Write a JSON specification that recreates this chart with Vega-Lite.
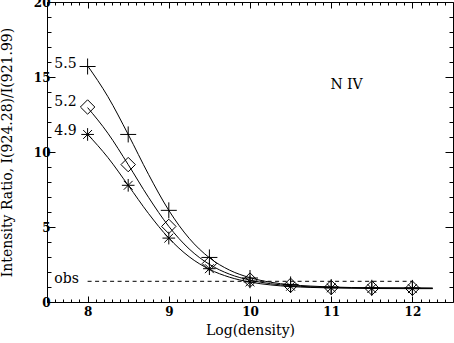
{
  "$schema": "https://vega.github.io/schema/vega-lite/v6.json",
  "width": 406,
  "height": 300,
  "padding": {"left": 47, "top": 2, "right": 1, "bottom": 41},
  "autosize": {"type": "none"},
  "background": "white",
  "config": {
    "view": {"stroke": "black", "strokeWidth": 1},
    "axis": {
      "domain": false,
      "grid": false,
      "tickColor": "black",
      "tickWidth": 1,
      "labelColor": "black",
      "titleColor": "black",
      "labelFont": "DejaVu Serif",
      "titleFont": "DejaVu Serif",
      "labelFontSize": 12,
      "labelFontWeight": "bold",
      "titleFontSize": 14,
      "titleFontWeight": "normal"
    }
  },
  "datasets": {
    "curves": [
      {"x": 8.0, "v": 15.75, "series": "5.5"},
      {"x": 8.25, "v": 13.69, "series": "5.5"},
      {"x": 8.5, "v": 11.17, "series": "5.5"},
      {"x": 8.75, "v": 8.51, "series": "5.5"},
      {"x": 9.0, "v": 6.11, "series": "5.5"},
      {"x": 9.25, "v": 4.25, "series": "5.5"},
      {"x": 9.5, "v": 2.95, "series": "5.5"},
      {"x": 9.75, "v": 2.12, "series": "5.5"},
      {"x": 10.0, "v": 1.62, "series": "5.5"},
      {"x": 10.25, "v": 1.32, "series": "5.5"},
      {"x": 10.5, "v": 1.15, "series": "5.5"},
      {"x": 10.75, "v": 1.06, "series": "5.5"},
      {"x": 11.0, "v": 1.0, "series": "5.5"},
      {"x": 11.5, "v": 0.95, "series": "5.5"},
      {"x": 12.0, "v": 0.94, "series": "5.5"},
      {"x": 12.25, "v": 0.93, "series": "5.5"},
      {"x": 8.0, "v": 12.96, "series": "5.2"},
      {"x": 8.25, "v": 11.25, "series": "5.2"},
      {"x": 8.5, "v": 9.16, "series": "5.2"},
      {"x": 8.75, "v": 6.98, "series": "5.2"},
      {"x": 9.0, "v": 5.04, "series": "5.2"},
      {"x": 9.25, "v": 3.54, "series": "5.2"},
      {"x": 9.5, "v": 2.51, "series": "5.2"},
      {"x": 9.75, "v": 1.85, "series": "5.2"},
      {"x": 10.0, "v": 1.46, "series": "5.2"},
      {"x": 10.25, "v": 1.22, "series": "5.2"},
      {"x": 10.5, "v": 1.09, "series": "5.2"},
      {"x": 10.75, "v": 1.01, "series": "5.2"},
      {"x": 11.0, "v": 0.97, "series": "5.2"},
      {"x": 11.5, "v": 0.93, "series": "5.2"},
      {"x": 12.0, "v": 0.92, "series": "5.2"},
      {"x": 12.25, "v": 0.91, "series": "5.2"},
      {"x": 8.0, "v": 11.18, "series": "4.9"},
      {"x": 8.25, "v": 9.63, "series": "4.9"},
      {"x": 8.5, "v": 7.78, "series": "4.9"},
      {"x": 8.75, "v": 5.9, "series": "4.9"},
      {"x": 9.0, "v": 4.26, "series": "4.9"},
      {"x": 9.25, "v": 3.02, "series": "4.9"},
      {"x": 9.5, "v": 2.18, "series": "4.9"},
      {"x": 9.75, "v": 1.65, "series": "4.9"},
      {"x": 10.0, "v": 1.33, "series": "4.9"},
      {"x": 10.25, "v": 1.14, "series": "4.9"},
      {"x": 10.5, "v": 1.03, "series": "4.9"},
      {"x": 10.75, "v": 0.97, "series": "4.9"},
      {"x": 11.0, "v": 0.94, "series": "4.9"},
      {"x": 11.5, "v": 0.9, "series": "4.9"},
      {"x": 12.0, "v": 0.89, "series": "4.9"},
      {"x": 12.25, "v": 0.89, "series": "4.9"}
    ],
    "symbols": [
      {"x": 8.0, "v": 15.7, "series": "5.5"},
      {"x": 8.5, "v": 11.17, "series": "5.5"},
      {"x": 9.0, "v": 6.11, "series": "5.5"},
      {"x": 9.5, "v": 2.97, "series": "5.5"},
      {"x": 10.0, "v": 1.6, "series": "5.5"},
      {"x": 10.5, "v": 1.17, "series": "5.5"},
      {"x": 11.0, "v": 1.0, "series": "5.5"},
      {"x": 11.5, "v": 0.95, "series": "5.5"},
      {"x": 12.0, "v": 0.94, "series": "5.5"},
      {"x": 8.0, "v": 13.0, "series": "5.2"},
      {"x": 8.5, "v": 9.16, "series": "5.2"},
      {"x": 9.0, "v": 5.04, "series": "5.2"},
      {"x": 9.5, "v": 2.56, "series": "5.2"},
      {"x": 10.0, "v": 1.46, "series": "5.2"},
      {"x": 10.5, "v": 1.11, "series": "5.2"},
      {"x": 11.0, "v": 0.97, "series": "5.2"},
      {"x": 11.5, "v": 0.93, "series": "5.2"},
      {"x": 12.0, "v": 0.92, "series": "5.2"},
      {"x": 8.0, "v": 11.17, "series": "4.9"},
      {"x": 8.5, "v": 7.78, "series": "4.9"},
      {"x": 9.0, "v": 4.26, "series": "4.9"},
      {"x": 9.5, "v": 2.22, "series": "4.9"},
      {"x": 10.0, "v": 1.34, "series": "4.9"},
      {"x": 10.5, "v": 1.05, "series": "4.9"},
      {"x": 11.0, "v": 0.94, "series": "4.9"},
      {"x": 11.5, "v": 0.9, "series": "4.9"},
      {"x": 12.0, "v": 0.89, "series": "4.9"}
    ],
    "obs": [
      {"x": 8.0, "x2": 12.0, "v": 1.38}
    ],
    "labels": [
      {"x": 7.59, "v": 15.85, "label": "5.5"},
      {"x": 7.59, "v": 13.36, "label": "5.2"},
      {"x": 7.59, "v": 11.39, "label": "4.9"},
      {"x": 7.59, "v": 1.52, "label": "obs"},
      {"x": 10.99, "v": 14.45, "label": "N IV"}
    ]
  },
  "layer": [
    {
      "data": {"name": "curves"},
      "mark": {"type": "line", "interpolate": "monotone", "color": "black", "strokeWidth": 1},
      "encoding": {
        "x": {
          "field": "x", "type": "quantitative",
          "scale": {"domain": [7.5, 12.5], "nice": false, "zero": false},
          "axis": {"orient": "bottom", "values": [8, 9, 10, 11, 12], "tickSize": -6, "labelPadding": 10, "title": "Log(density)", "titlePadding": 6, "format": "d"}
        },
        "y": {
          "field": "v", "type": "quantitative",
          "scale": {"domain": [0, 20], "nice": false, "zero": false},
          "axis": {"orient": "left", "values": [0, 5, 10, 15, 20], "tickSize": -8, "labelPadding": 5, "title": "Intensity Ratio, I(924.28)/I(921.99)", "titlePadding": 19, "format": "d"}
        },
        "detail": {"field": "series", "type": "nominal"}
      }
    },
    {
      "data": {"name": "symbols"},
      "mark": {"type": "point", "filled": false, "color": "black", "strokeWidth": 1, "opacity": 1},
      "encoding": {
        "x": {
          "field": "x", "type": "quantitative",
          "axis": {"orient": "bottom", "values": [7.5,7.6,7.7,7.8,7.9,8.1,8.2,8.3,8.4,8.5,8.6,8.7,8.8,8.9,9.1,9.2,9.3,9.4,9.5,9.6,9.7,9.8,9.9,10.1,10.2,10.3,10.4,10.5,10.6,10.7,10.8,10.9,11.1,11.2,11.3,11.4,11.5,11.6,11.7,11.8,11.9,12.1,12.2,12.3,12.4], "tickSize": -3, "labels": false, "title": null}
        },
        "y": {
          "field": "v", "type": "quantitative",
          "axis": {"orient": "left", "values": [1,2,3,4,6,7,8,9,11,12,13,14,16,17,18,19], "tickSize": -4, "labels": false, "title": null}
        },
        "shape": {
          "field": "series", "type": "nominal",
          "scale": {"domain": ["5.5", "5.2", "4.9"], "range": ["M-1,0H1M0,-1V1", "M0,-1L1,0L0,1L-1,0Z", "M-1,0H1M0,-1V1M-0.7,-0.7L0.7,0.7M-0.7,0.7L0.7,-0.7"]},
          "legend": null
        },
        "size": {
          "field": "series", "type": "ordinal",
          "scale": {"domain": ["5.5", "5.2", "4.9"], "range": [256, 160, 225]},
          "legend": null
        }
      }
    },
    {
      "data": {"name": "obs"},
      "mark": {"type": "rule", "color": "black", "strokeWidth": 1, "strokeDash": [4, 3.5]},
      "encoding": {
        "x": {
          "field": "x", "type": "quantitative",
          "axis": {"orient": "top", "values": [8, 9, 10, 11, 12], "tickSize": -6, "labels": false, "title": null}
        },
        "x2": {"field": "x2"},
        "y": {
          "field": "v", "type": "quantitative",
          "axis": {"orient": "right", "values": [0, 5, 10, 15, 20], "tickSize": -8, "labels": false, "title": null}
        }
      }
    },
    {
      "data": {"name": "labels"},
      "mark": {"type": "text", "align": "left", "baseline": "middle", "font": "DejaVu Serif", "fontSize": 14, "color": "black"},
      "encoding": {
        "x": {
          "field": "x", "type": "quantitative",
          "axis": {"orient": "top", "values": [7.5,7.6,7.7,7.8,7.9,8.1,8.2,8.3,8.4,8.5,8.6,8.7,8.8,8.9,9.1,9.2,9.3,9.4,9.5,9.6,9.7,9.8,9.9,10.1,10.2,10.3,10.4,10.5,10.6,10.7,10.8,10.9,11.1,11.2,11.3,11.4,11.5,11.6,11.7,11.8,11.9,12.1,12.2,12.3,12.4], "tickSize": -3, "labels": false, "title": null}
        },
        "y": {
          "field": "v", "type": "quantitative",
          "axis": {"orient": "right", "values": [1,2,3,4,6,7,8,9,11,12,13,14,16,17,18,19], "tickSize": -4, "labels": false, "title": null}
        },
        "text": {"field": "label", "type": "nominal"}
      }
    }
  ],
  "resolve": {"axis": {"x": "independent", "y": "independent"}}
}
